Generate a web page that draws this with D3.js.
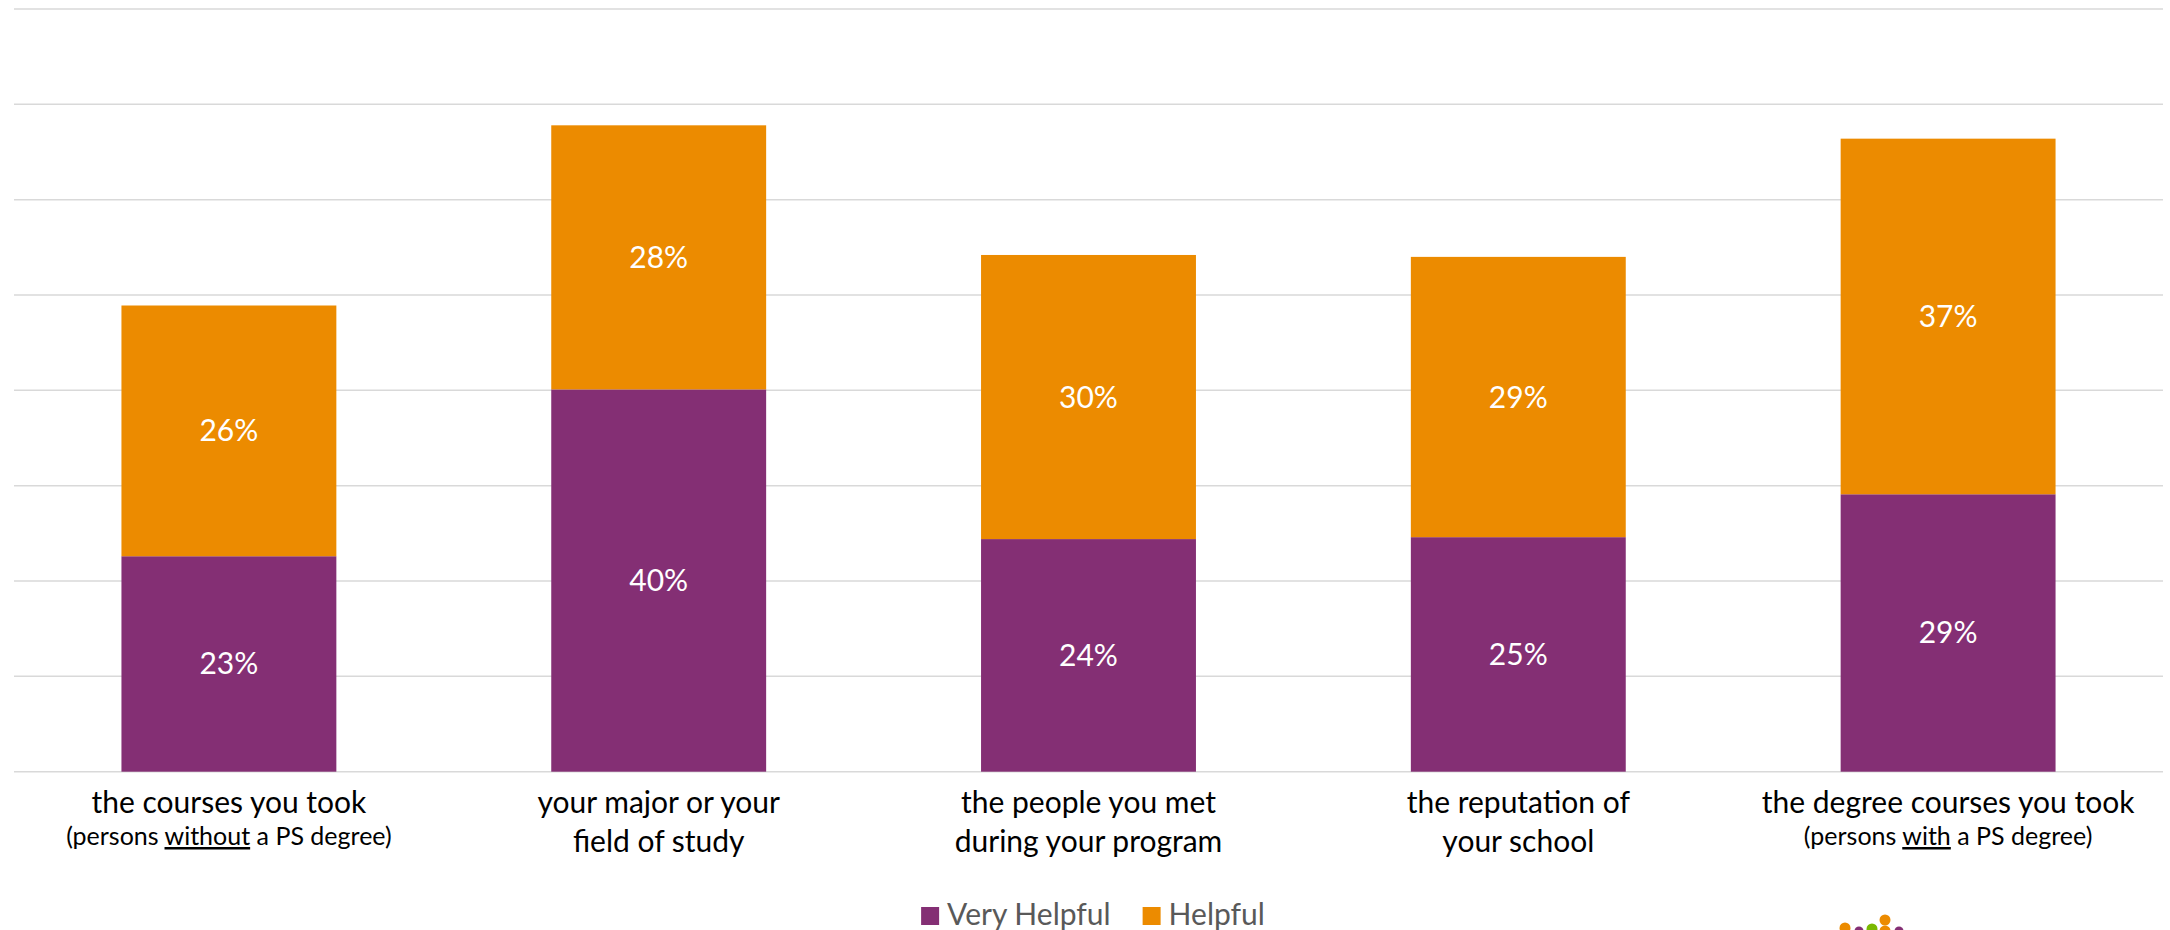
<!DOCTYPE html>
<html>
<head>
<meta charset="utf-8">
<script src="https://cdn.jsdelivr.net/npm/d3@7"></script>
<style>
  html, body { margin: 0; padding: 0; background: #ffffff; }
  svg { display: block; }
  text { font-family: Lato, "Open Sans", "Liberation Sans", sans-serif; }
</style>
</head>
<body>
<svg id="chart" width="2170" height="930"></svg>
<script>
// ---- data ----
const categories = [
  "the courses you took",
  "your major or your field of study",
  "the people you met during your program",
  "the reputation of your school",
  "the degree courses you took"
];
// first line / second line of each axis label
const labelLine1 = ["the courses you took", "your major or your", "the people you met", "the reputation of", "the degree courses you took"];
const labelLine2 = [null, "field of study", "during your program", "your school", null];
// sub-notes: [before underline, underlined, after]
const subNotes = [["(persons ", "without", " a PS degree)"], null, null, null, ["(persons ", "with", " a PS degree)"]];

const seriesNames = ["Very Helpful", "Helpful"];
const veryHelpful = [22.6, 40.1, 24.4, 24.6, 29.1];
const helpful = [26.3, 27.7, 29.8, 29.4, 37.3];
const yTicks = [0, 10, 20, 30, 40, 50, 60, 70, 80];

// ---- layout ----
const colors = ["#842f74", "#ec8b00"];
const plot = { left: 14, right: 2163, top: 9, bottom: 771.7 };

const svg = d3.select("#chart");

const x = d3.scaleBand()
  .domain(categories)
  .range([plot.left, plot.right])
  .paddingInner(0.5)
  .paddingOuter(0.25);

const y = d3.scaleLinear().domain([0, 80]).range([plot.bottom, plot.top]);

// gridlines
svg.append("g")
  .selectAll("line")
  .data(yTicks)
  .join("line")
  .attr("x1", plot.left).attr("x2", plot.right)
  .attr("y1", d => y(d)).attr("y2", d => y(d))
  .attr("stroke", "#d9d9d9")
  .attr("stroke-width", 1.5);

// stack
const rows = categories.map((c, i) => ({ cat: c, "Very Helpful": veryHelpful[i], "Helpful": helpful[i] }));
const stack = d3.stack().keys(seriesNames)(rows);

const fmt = v => d3.format(".0f")(v) + "%";

const layers = svg.append("g")
  .selectAll("g")
  .data(stack)
  .join("g")
  .attr("fill", (d, i) => colors[i]);

layers.selectAll("rect")
  .data(d => d)
  .join("rect")
  .attr("x", d => x(d.data.cat))
  .attr("width", x.bandwidth())
  .attr("y", d => y(d[1]))
  .attr("height", d => y(d[0]) - y(d[1]));

layers.selectAll("text")
  .data(d => d)
  .join("text")
  .attr("x", d => x(d.data.cat) + x.bandwidth() / 2)
  .attr("y", d => (y(d[0]) + y(d[1])) / 2)
  .attr("dy", "0.35em")
  .attr("text-anchor", "middle")
  .attr("fill", "#ffffff")
  .attr("font-size", 30)
  .text(d => fmt(d[1] - d[0]));

// category labels
const lab = svg.append("g");
categories.forEach((c, i) => {
  const cx = x(c) + x.bandwidth() / 2;
  lab.append("text")
    .attr("x", cx).attr("y", 813)
    .attr("text-anchor", "middle")
    .attr("font-size", 30)
    .attr("fill", "#000000")
    .text(labelLine1[i]);
  if (labelLine2[i]) {
    lab.append("text")
      .attr("x", cx).attr("y", 852)
      .attr("text-anchor", "middle")
      .attr("font-size", 30)
      .attr("fill", "#000000")
      .text(labelLine2[i]);
  }
  if (subNotes[i]) {
    const t = lab.append("text")
      .attr("x", cx).attr("y", 845)
      .attr("text-anchor", "middle")
      .attr("font-size", 25)
      .attr("fill", "#000000");
    t.append("tspan").text(subNotes[i][0]);
    t.append("tspan").attr("text-decoration", "underline").text(subNotes[i][1]);
    t.append("tspan").text(subNotes[i][2]);
  }
});

// legend
const legend = svg.append("g");
const items = legend.selectAll("g").data(seriesNames).join("g");
items.append("rect").attr("width", 18).attr("height", 18).attr("y", 907).attr("fill", (d, i) => colors[i]);
items.append("text").attr("x", 26).attr("y", 925).attr("font-size", 30).attr("fill", "#595959").text(d => d);
// position legend items
let offs = 0;
const widths = [];
items.each(function () { widths.push(this.getBBox().width); });
const gap = 32;
const total = d3.sum(widths) + gap * (widths.length - 1);
let start = 1093 - total / 2;
items.attr("transform", (d, i) => {
  const tx = start + d3.sum(widths.slice(0, i)) + gap * i;
  return `translate(${tx},0)`;
});

// partial logo at bottom right (decorative)
const logo = [
  { cx: 1845, cy: 928, r: 5.5, c: "#ec8b00" },
  { cx: 1859, cy: 931, r: 4.5, c: "#842f74" },
  { cx: 1872, cy: 929, r: 5.5, c: "#7ab800" },
  { cx: 1885, cy: 920, r: 5.5, c: "#ec8b00" },
  { cx: 1885, cy: 931, r: 5.5, c: "#ec8b00" },
  { cx: 1899, cy: 931, r: 4.5, c: "#842f74" }
];
svg.append("g").selectAll("circle").data(logo).join("circle")
  .attr("cx", d => d.cx).attr("cy", d => d.cy).attr("r", d => d.r).attr("fill", d => d.c);
</script>
</body>
</html>
